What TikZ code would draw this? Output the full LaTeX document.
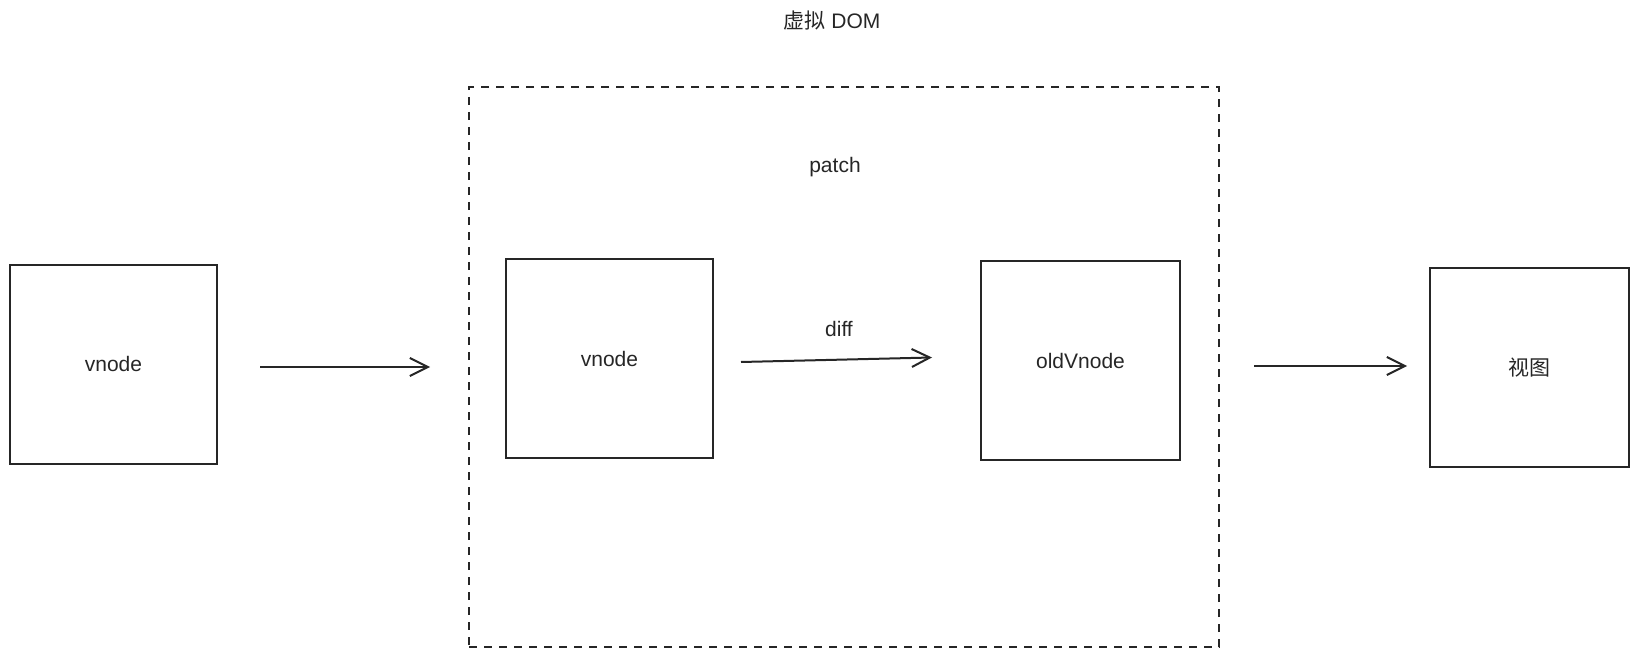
\documentclass[tikz,border=0pt]{standalone}
\usepackage{fontspec}
\setmainfont{Liberation Sans}
\newfontfamily\cjk{Noto Sans CJK SC}
\usetikzlibrary{arrows.meta}
\tikzset{
  lbl/.style={font=\fontsize{10.5}{12}\selectfont, text=black!85},
  box/.style={lbl, draw=black!85, line width=1pt, inner sep=0pt, minimum width=#1*0.5pt, minimum height=99.5pt},
  flow/.style={draw=black!85, line width=1pt, -{Straight Barb[length=9pt,width=9pt,line width=1pt]}},
  frame/.style={draw=black!85, line width=1pt, dash pattern=on 4pt off 3.5pt, inner sep=0pt, minimum width=375pt, minimum height=280pt},
}
\begin{document}
\begin{tikzpicture}[x=0.5pt,y=-0.5pt]
\useasboundingbox (0,0) rectangle (1639,658);
\node[frame] (dom) at (844,367) {};
\node[lbl] (title) at (832,21) {{\cjk 虚拟} DOM};
\node[lbl] (patch) at (835,167) {patch};
\node[box=207] (v1) at (113.5,364) {vnode};
\node[box=207] (v2) at (609.5,358.5) {vnode};
\node[box=199] (old) at (1080.5,360.5) {oldVnode};
\node[box=199] (view) at (1529.5,367.5) {\cjk 视图};
\node[lbl] (diff) at (839,329) {diff};
% arrow endpoints
\coordinate (a1s) at (260,367);
\coordinate (a1e) at (430,367);
\coordinate (a2s) at (741,362);
\coordinate (a2e) at (932,357.5);
\coordinate (a3s) at (1254,366);
\coordinate (a3e) at (1407,366);
\draw[flow] (a1s) -- (a1e);
\draw[flow] (a2s) -- (a2e);
\draw[flow] (a3s) -- (a3e);
\end{tikzpicture}
\end{document}
